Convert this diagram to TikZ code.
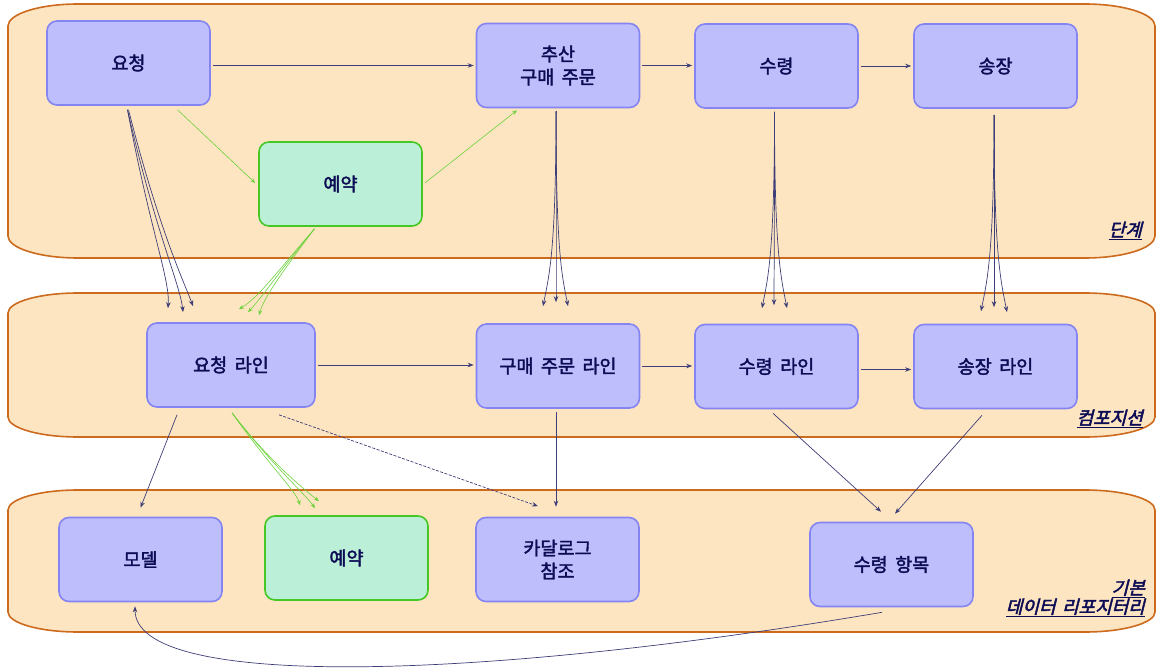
\documentclass[tikz,border=0pt]{standalone}
\usepackage{fontspec}
\setmainfont{Noto Sans CJK KR}
\newfontfamily\kr{Noto Sans CJK KR}[FakeBold=2,WordSpace=1.8]
\newfontfamily\krlab{Noto Sans CJK KR}[FakeBold=2.5,FakeSlant=0.25,WordSpace=1.6]
\usetikzlibrary{arrows.meta,calc}
\definecolor{bandfill}{HTML}{FDE5C2}
\definecolor{bandline}{HTML}{CC6A1E}
\definecolor{boxfill}{HTML}{BEBEFD}
\definecolor{boxline}{HTML}{8484F2}
\definecolor{gfill}{HTML}{BCEFD8}
\definecolor{gline}{HTML}{45C825}
\definecolor{txt}{HTML}{0C0C55}
\definecolor{arrc}{HTML}{3E3E78}
\definecolor{garc}{HTML}{6CD23A}
\begin{document}
\begin{tikzpicture}[x=1pt,y=-1pt,
  band/.style={draw=bandline,fill=bandfill,line width=1.6pt},
  box/.style={draw=boxline,fill=boxfill,rounded corners=10pt,line width=1.6pt,
    minimum width=163pt,minimum height=84pt,align=center,text=txt,
    font=\kr\fontsize{18.5}{23}\selectfont},
  gbox/.style={box,draw=gline,fill=gfill},
  arr/.style={draw=arrc,line width=0.7pt,-{Stealth[length=6pt,width=4.5pt]}},
  harr/.style={arr,shorten <=2pt,shorten >=2pt},
  garr/.style={draw=garc,line width=0.6pt,-{Stealth[length=5pt,width=4pt]}},
  darr/.style={arr,dash pattern=on 3pt off 1.5pt},
  lab/.style={text=txt,align=right,font=\krlab\fontsize{18}{19}\selectfont,inner sep=0pt}]
\useasboundingbox (0,0) rectangle (1157,671);
% bands
\path[band] (8,26) .. controls (8,13.9) and (39.4,4) .. (78,4) -- (1085,4)
  .. controls (1123.6,4) and (1155,13.9) .. (1155,26) -- (1155,236)
  .. controls (1155,248.1) and (1123.6,258) .. (1085,258) -- (78,258)
  .. controls (39.4,258) and (8,248.1) .. (8,236) -- cycle;
\path[band] (8,313) .. controls (8,302) and (39.4,293) .. (78,293) -- (1085,293)
  .. controls (1123.6,293) and (1155,302) .. (1155,313) -- (1155,417)
  .. controls (1155,428) and (1123.6,437) .. (1085,437) -- (78,437)
  .. controls (39.4,437) and (8,428) .. (8,417) -- cycle;
\path[band] (8,510) .. controls (8,499) and (39.4,490) .. (78,490) -- (1085,490)
  .. controls (1123.6,490) and (1155,499) .. (1155,510) -- (1155,612)
  .. controls (1155,623) and (1123.6,632) .. (1085,632) -- (78,632)
  .. controls (39.4,632) and (8,623) .. (8,612) -- cycle;
% labels
\node[lab,anchor=south east] (l1) at (1142,240) {\underline{단계}};
\node[lab,anchor=south east] (l2) at (1143,428) {\underline{컴포지션}};
\node[lab,anchor=south east] (l3) at (1145,617) {\underline{기본}\\\underline{데이터 리포지터리}};
% nodes
\node[box] (yc) at (128.5,63) {요청};
\node[box] (ch) at (558,65.5) {추산\\구매 주문};
\node[box] (sr) at (776.5,66) {수령};
\node[box] (sj) at (995.5,66) {송장};
\node[gbox] (yy) at (340.5,184) {예약};
\node[box,minimum width=168pt] (ycl) at (231,365) {요청 라인};
\node[box] (gjl) at (558,366) {구매 주문 라인};
\node[box] (srl) at (776.5,366.5) {수령 라인};
\node[box] (sjl) at (995.5,366.5) {송장 라인};
\node[box] (md) at (140.5,559.5) {모델};
\node[gbox] (yy2) at (346.5,558) {예약};
\node[box] (kt) at (557.5,559.5) {카달로그\\참조};
\node[box] (srh) at (891.5,564.5) {수령 항목};
% horizontal flows
\draw[harr] (yc.east |- ch.west) -- (ch.west);
\draw[harr] (ch.east) -- (ch.east -| sr.west);
\draw[harr] (sr.east) -- (sr.east -| sj.west);
\draw[harr] (ycl.east) -- (ycl.east -| gjl.west);
\draw[harr] (gjl.east) -- (gjl.east -| srl.west);
\draw[harr] ($(srl.east)+(0,3)$) -- ($(sjl.west)+(0,3)$);
% green links in top band
\draw[garr] ($(yc.south)+(49,4)$) -- ($(yy.west)+(-3,-1)$);
\draw[garr] ($(yy.east)+(2,-1)$) -- ($(ch.south)+(-41,2)$);
% bundles yc -> ycl
\draw[arr] ($(yc.south)+(-1,4)$) .. controls +(23,122) and +(2,-29) .. ($(ycl.north)+(-63,-14)$);
\draw[arr] ($(yc.south)+(-1,4)$) .. controls +(28,122) and +(-3,-28) .. ($(ycl.north)+(-48,-10)$);
\draw[arr] ($(yc.south)+(0,4)$) .. controls +(31,122) and +(-8,-22) .. ($(ycl.north)+(-38,-16)$);
% green bundle yy -> ycl
\draw[garr] ($(yy.south)+(-26,2)$) .. controls +(-35,40) and +(20,-12) .. ($(ycl.north)+(8,-13)$);
\draw[garr] ($(yy.south)+(-26,2)$) .. controls +(-33,40) and +(14,-15) .. ($(ycl.north)+(17,-10)$);
\draw[garr] ($(yy.south)+(-26,2)$) .. controls +(-30,40) and +(5,-18) .. ($(ycl.north)+(28,-7)$);
% bundle ch -> gjl
\draw[arr] ($(ch.south)+(-2,3)$) .. controls +(0,140) and +(6,-30) .. ($(gjl.north)+(-15,-17)$);
\draw[arr] ($(ch.south)+(-2,3)$) .. controls +(0,140) and +(0,-30) .. ($(gjl.north)+(-2,-21)$);
\draw[arr] ($(ch.south)+(-2,3)$) .. controls +(0,140) and +(-6,-30) .. ($(gjl.north)+(10,-17)$);
% bundle sr -> srl
\draw[arr] ($(sr.south)+(-2,3)$) .. controls +(0,140) and +(6,-30) .. ($(srl.north)+(-14.5,-15.5)$);
\draw[arr] ($(sr.south)+(-2,3)$) .. controls +(0,140) and +(0,-30) .. ($(srl.north)+(-2.5,-18.5)$);
\draw[arr] ($(sr.south)+(-2,3)$) .. controls +(0,140) and +(-6,-30) .. ($(srl.north)+(10.5,-15.5)$);
% bundle sj -> sjl
\draw[arr] ($(sj.south)+(-1.5,6)$) .. controls +(0,140) and +(6,-30) .. ($(sjl.north)+(-14.5,-12.5)$);
\draw[arr] ($(sj.south)+(-1.5,6)$) .. controls +(0,140) and +(0,-30) .. ($(sjl.north)+(-1.5,-16.5)$);
\draw[arr] ($(sj.south)+(-1.5,6)$) .. controls +(0,140) and +(-6,-30) .. ($(sjl.north)+(11.5,-11.5)$);
% lower links
\draw[arr] ($(ycl.south)+(-54,7)$) -- ($(md.north)+(0,-9)$);
\draw[garr] ($(ycl.south)+(1,5)$) .. controls +(35,50) and +(-4,-14) .. ($(yy2.north)+(-46.5,-10)$);
\draw[garr] ($(ycl.south)+(1,5)$) .. controls +(38,50) and +(-8,-12) .. ($(yy2.north)+(-31.5,-7)$);
\draw[garr] ($(ycl.south)+(1,5)$) .. controls +(38,50) and +(-10,-8) .. ($(yy2.north)+(-27.5,-14)$);
\draw[darr] ($(ycl.south)+(48,7)$) -- ($(kt.north)+(-19.5,-10.5)$);
\draw[arr] ($(gjl.south)+(-2,3)$) -- ($(kt.north)+(-1.5,-10)$);
\draw[arr] ($(srl.south)+(-3.5,4)$) -- ($(srh.north)+(-10.5,-10)$);
\draw[arr] ($(sjl.south)+(-13.5,6)$) -- ($(srh.north)+(3.5,-8)$);
\draw[arr] ($(srh.south)+(-9.5,5)$) .. controls +(-402,68) and +(0,84) .. ($(md.south)+(-5.5,4)$);
\end{tikzpicture}
\end{document}
